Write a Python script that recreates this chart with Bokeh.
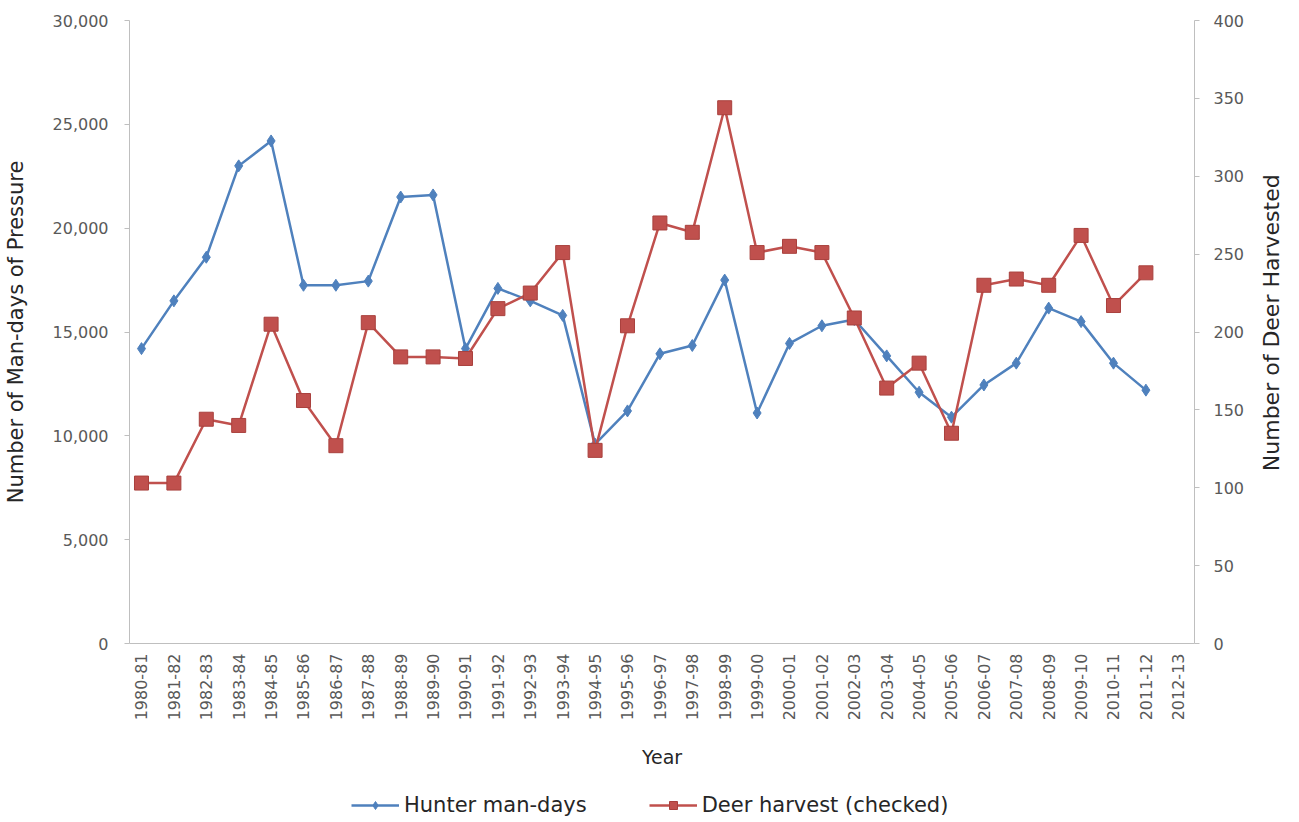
import math
from bokeh.plotting import figure
from bokeh.layouts import column, row
from bokeh.models import (Range1d, LinearAxis, FixedTicker, NumeralTickFormatter,
                          Legend, LegendItem, Label)
from bokeh.embed import file_html
from bokeh.resources import INLINE

# ---- data ----
seasons = ["1980-81", "1981-82", "1982-83", "1983-84", "1984-85", "1985-86", "1986-87",
           "1987-88", "1988-89", "1989-90", "1990-91", "1991-92", "1992-93", "1993-94",
           "1994-95", "1995-96", "1996-97", "1997-98", "1998-99", "1999-00", "2000-01",
           "2001-02", "2002-03", "2003-04", "2004-05", "2005-06", "2006-07", "2007-08",
           "2008-09", "2009-10", "2010-11", "2011-12", "2012-13"]
hunter_man_days = [14200, 16500, 18600, 23000, 24200, 17250, 17250, 17450, 21500, 21600, 14200,
                   17100, 16500, 15800, 9600, 11200, 13950, 14350, 17500, 11100, 14450, 15300,
                   15600, 13850, 12100, 10900, 12450, 13500, 16150, 15500, 13500, 12200]
deer_harvest = [103, 103, 144, 140, 205, 156, 127, 206, 184, 184, 183,
                215, 225, 251, 124, 204, 270, 264, 344, 251, 255, 251,
                209, 164, 180, 135, 230, 234, 230, 262, 217, 238]

xs_h = list(range(len(hunter_man_days)))
xs_d = list(range(len(deer_harvest)))

BLUE = "#4F81BD"
RED = "#C0504D"
AX = "#BFBFBF"
TXT = "#595959"
TITLE = "#262626"
FONT = "DejaVu Sans"

p = figure(width=1258, height=786, output_backend="svg", toolbar_location=None,
           x_range=Range1d(-0.37, len(seasons) - 0.5), y_range=Range1d(0, 30000),
           min_border_left=127, min_border_right=64, min_border_top=20,
           min_border_bottom=143)
p.extra_y_ranges = {"deer": Range1d(0, 400)}
p.xgrid.visible = False
p.ygrid.visible = False
p.outline_line_color = None
p.background_fill_color = "white"

# x axis
xa = p.xaxis[0]
xa.ticker = FixedTicker(ticks=list(range(len(seasons))))
xa.major_label_overrides = {i: s for i, s in enumerate(seasons)}
xa.major_label_orientation = math.pi / 2
xa.major_label_text_font = FONT
xa.major_label_text_font_size = "16px"
xa.major_label_text_color = TXT
xa.major_label_standoff = 10
xa.major_tick_out = 0
xa.major_tick_in = 0
xa.minor_tick_out = 0
xa.minor_tick_in = 0
xa.axis_line_color = AX
xa.axis_label = "Year"
xa.axis_label_text_font = FONT
xa.axis_label_text_font_size = "19px"
xa.axis_label_text_font_style = "normal"
xa.axis_label_text_color = TITLE
xa.axis_label_standoff = 23

# left axis
ya = p.yaxis[0]
ya.ticker = FixedTicker(ticks=[0, 5000, 10000, 15000, 20000, 25000, 30000])
ya.formatter = NumeralTickFormatter(format="0,0")
ya.major_label_text_font = FONT
ya.major_label_text_font_size = "16px"
ya.major_label_text_color = TXT
ya.major_tick_out = 5
ya.major_tick_in = 0
ya.minor_tick_out = 0
ya.minor_tick_in = 0
ya.major_tick_line_color = AX
ya.major_label_standoff = 16
ya.axis_line_color = AX
ya.axis_label = "Number of Man-days of Pressure"
ya.axis_label_text_font = FONT
ya.axis_label_text_font_size = "21px"
ya.axis_label_text_font_style = "normal"
ya.axis_label_text_color = TITLE
ya.axis_label_standoff = 22

# right axis
ra = LinearAxis(y_range_name="deer")
ra.ticker = FixedTicker(ticks=[0, 50, 100, 150, 200, 250, 300, 350, 400])
ra.major_label_text_font = FONT
ra.major_label_text_font_size = "16px"
ra.major_label_text_color = TXT
ra.major_tick_out = 5
ra.major_tick_in = 0
ra.minor_tick_out = 0
ra.minor_tick_in = 0
ra.major_tick_line_color = AX
ra.major_label_standoff = 14
ra.axis_line_color = AX
p.add_layout(ra, "right")

# series
p.line(xs_h, hunter_man_days, line_color=BLUE, line_width=2.5)
p.scatter(xs_h, hunter_man_days, marker="diamond", size=12, fill_color=BLUE,
          line_color=BLUE)
p.line(xs_d, deer_harvest, line_color=RED, line_width=2.5, y_range_name="deer")
p.scatter(xs_d, deer_harvest, marker="square", size=14, fill_color=RED,
          line_color="#A9403D", y_range_name="deer")

# right-hand axis title strip (reads bottom-to-top, as in the reference)
r = figure(width=25, height=786, output_backend="svg", toolbar_location=None,
           x_range=Range1d(0, 1), y_range=Range1d(0, 1), min_border=0)
r.axis.visible = False
r.xgrid.visible = False
r.ygrid.visible = False
r.outline_line_color = None
r.add_layout(Label(x=0.5, y=0.59, text="Number of Deer Harvested", angle=math.pi / 2,
                   text_align="center", text_baseline="middle", text_font=FONT,
                   text_font_size="22px", text_color=TITLE))

# legend strip below the chart (series drawn outside its visible range)
q = figure(width=1258, height=34, output_backend="svg", toolbar_location=None,
           x_range=Range1d(0, 1), y_range=Range1d(0, 1), min_border=0)
q.axis.visible = False
q.xgrid.visible = False
q.ygrid.visible = False
q.outline_line_color = None
ql1 = q.line(xs_h, hunter_man_days, line_color=BLUE, line_width=2.5)
qm1 = q.scatter(xs_h, hunter_man_days, marker="diamond", size=12, fill_color=BLUE,
                line_color=BLUE)
ql2 = q.line(xs_d, deer_harvest, line_color=RED, line_width=2.5)
qm2 = q.scatter(xs_d, deer_harvest, marker="square", size=14, fill_color=RED,
                line_color="#A9403D")

legend = Legend(items=[LegendItem(label="Hunter man-days", renderers=[ql1, qm1], index=0),
                       LegendItem(label="Deer harvest (checked)", renderers=[ql2, qm2], index=0)],
                orientation="horizontal", location=(222, 3))
legend.label_text_font = FONT
legend.label_text_font_size = "21px"
legend.label_text_color = TITLE
legend.label_standoff = 5
legend.border_line_color = None
legend.background_fill_alpha = 0
legend.glyph_width = 48
legend.spacing = 62
legend.padding = 2
legend.margin = 0
q.add_layout(legend)

layout = row(column(p, q, spacing=0), r, spacing=0)
open("out.html", "w").write(file_html(layout, INLINE))
